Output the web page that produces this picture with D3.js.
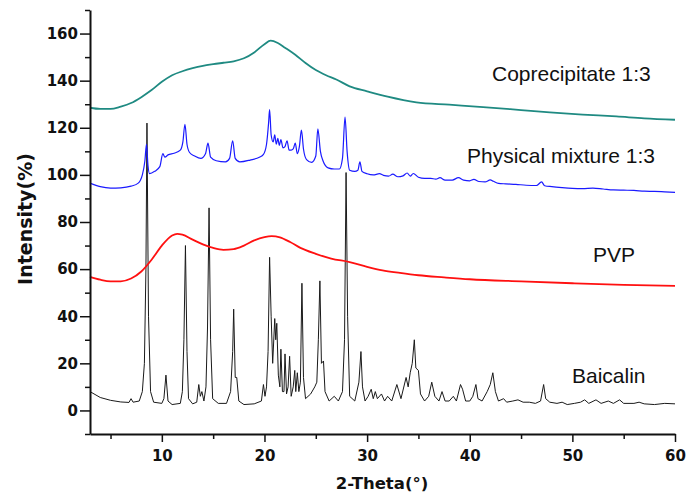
<!DOCTYPE html>
<html>
<head>
    <script type="text/javascript" src="https://d3js.org/d3.v7.min.js"></script>
    <style>
        body { margin: 0; background: #fff; }
        .tick text { font-family: "DejaVu Sans"; font-weight: bold; font-size: 15px; fill: #111; }
        .lbl { font-family: "Liberation Sans", Arial; font-size: 21px; fill: #111; }
        .title { font-family: "DejaVu Sans"; font-weight: bold; font-size: 16.5px; fill: #111; }
    </style>
</head>
<body>
<div id="chart"></div>
<script>
    var width = 700, height = 496;
    var margin = {left: 90, right: 25, top: 10, bottom: 62};

    // tick values
    var xMajor = [10, 20, 30, 40, 50, 60];
    var xMinor = [5, 15, 25, 35, 45, 55];
    var yMajor = [0, 20, 40, 60, 80, 100, 120, 140, 160];
    var yMinor = [-10, 10, 30, 50, 70, 90, 110, 130, 150, 170];

    // series: [2-theta, intensity]
    var baicalin = [[3,8],[4,5.5],[5,4.3],[6,3.6],[6.8,3.4],[7,5],[7.2,3.5],[7.8,4],[8.1,8],[8.3,20],[8.45,60],[8.55,122],[8.7,40],[8.9,8],[9.2,3.5],[10,3],[10.2,5],[10.4,15],[10.6,4],[11,2.5],[11.8,3],[12.0,8],[12.15,30],[12.3,70],[12.45,25],[12.6,5],[13,2.8],[13.4,3.5],[13.6,11],[13.75,6],[13.9,8],[14.1,4],[14.3,10],[14.45,35],[14.6,86],[14.75,30],[14.95,5],[15.5,3],[16.3,3],[16.7,8],[16.9,25],[17.0,43],[17.15,14],[17.3,14],[17.5,4],[18,2.5],[19,2.8],[19.7,4],[19.9,11],[20.05,6],[20.2,10],[20.35,25],[20.5,65],[20.65,40],[20.8,20],[21.0,39],[21.1,30],[21.2,37],[21.35,15],[21.5,10],[21.6,26],[21.75,8],[21.9,8],[22.0,24],[22.15,7],[22.3,10],[22.45,23],[22.6,6],[22.8,10],[22.95,17],[23.05,8],[23.2,16],[23.35,8],[23.5,12],[23.65,54],[23.8,14],[24,5],[24.5,7],[24.9,10],[25.1,12],[25.25,30],[25.4,55],[25.55,20],[25.75,21],[25.9,8],[26.3,4],[26.8,6],[27.2,4],[27.6,8],[27.8,30],[27.95,101],[28.1,40],[28.3,6],[28.8,4],[29.2,12],[29.4,25],[29.55,10],[29.8,4],[30.1,6],[30.4,9],[30.6,5],[30.8,8],[31.0,5],[31.4,7],[31.7,4],[32.0,6],[32.4,4],[32.9,11],[33.3,5],[33.8,14],[34.0,10],[34.2,16],[34.4,20],[34.6,30],[34.75,18],[35.0,17],[35.2,7],[35.6,4],[36.0,6],[36.3,12],[36.6,6],[37.0,4],[37.3,8],[37.6,4],[38.0,4],[38.4,6],[38.7,4],[39.1,11],[39.3,9],[39.6,4],[40.0,4],[40.3,6],[40.6,11],[40.8,5],[41.2,4],[41.7,8],[42.0,11],[42.25,16],[42.5,8],[42.8,4],[43.3,5],[43.6,3.5],[44.2,4],[44.7,4.5],[45.2,3.5],[45.8,3.5],[46.4,3],[46.9,4],[47.2,11],[47.4,5],[47.8,3.5],[48.5,3],[49,3.5],[49.5,2.5],[50.2,3],[50.8,3.5],[51.2,4.5],[51.6,3],[52.3,4.5],[52.8,3],[53.5,4],[54.0,3],[54.6,4.5],[55,3],[56,3],[56.5,3.5],[57,2.8],[58,2.5],[59,3],[60,2.8]];

    var pvp = [[3,56.7],[4,55.5],[5,54.8],[6,54.8],[7,56],[8,59],[9,64],[10,70],[11,74.3],[11.5,75],[12,74.6],[13,72.5],[14,70.5],[15,69],[16,68.2],[17,68.5],[18,70],[19,72.2],[20,73.6],[20.7,74],[21.5,73.5],[22.5,71.5],[23.5,69],[25,66.5],[26.5,64.5],[28.3,63],[30,61],[31.5,59.5],[33.2,58.4],[35,57.4],[37.5,56.5],[40,55.7],[45,54.8],[50,54],[55,53.3],[60,52.9]];

    var mixture = [[3,96.5],[4,95],[5,94.4],[6,94.5],[7,95.2],[7.7,96.5],[8.1,100],[8.35,106],[8.5,113],[8.65,104],[8.8,100.5],[9.3,101.5],[9.8,103.5],[10.1,109],[10.3,107.5],[10.6,108.5],[11.2,109.2],[11.8,110.5],[12.05,114],[12.25,121.5],[12.45,113],[12.7,109.5],[13.2,108],[13.8,107],[14.25,109],[14.5,113.5],[14.75,107.5],[15.3,106],[16.2,105.5],[16.6,107],[16.9,114.5],[17.15,107],[17.6,105.5],[18.6,106.3],[19.5,107.5],[19.9,108.7],[20.2,113],[20.4,122],[20.5,127.7],[20.65,117],[20.85,114],[21.0,117],[21.15,113],[21.3,115.5],[21.45,112.5],[21.6,115],[21.8,111.5],[22.0,112],[22.2,114.5],[22.4,110.5],[22.6,110.5],[22.8,111],[23.0,113.5],[23.2,109],[23.4,112],[23.6,119],[23.8,111],[24.1,106.5],[24.6,105.3],[25.0,108],[25.2,119.5],[25.45,110],[25.7,106],[26.2,103],[26.8,102.5],[27.3,102.5],[27.6,107],[27.85,124.5],[28.05,110],[28.3,102],[28.8,101.5],[29.1,102],[29.3,105.5],[29.5,101.5],[30,100.5],[30.6,100],[31.2,100.5],[31.6,99.8],[32.1,99.5],[32.5,100.3],[33,99.2],[33.5,99.6],[33.9,100.8],[34.2,99.5],[34.5,100.6],[35,99],[35.6,98.5],[36.2,98.5],[36.7,98.2],[37.1,98.8],[37.6,97.8],[38.3,97.8],[38.9,98.8],[39.4,97.8],[40,97.5],[40.4,98.1],[40.9,97.2],[41.5,97],[42.0,97.9],[42.3,97.3],[42.8,96.4],[43.5,96.2],[44.5,96],[45.5,95.6],[46.5,95.5],[47.0,97],[47.3,95.4],[48,95],[49,94.6],[50,94.3],[51,94.2],[52,94.4],[53,94],[54,93.6],[55,93.5],[56,93.4],[57,93.1],[58,93],[59,92.8],[60,92.6]];

    var copre = [[3,128.5],[4,128],[5,128],[6,129],[7,130.5],[8,133],[9,136],[10,139.5],[11,142.3],[12,144],[13,145.3],[14,146.3],[15,147],[16,147.6],[17,148.2],[18,149.5],[19,152],[20,155.5],[20.6,157],[21.3,156],[22,154],[23,151],[24,147.5],[25,144.5],[26,142.3],[27,140.5],[28.3,137.6],[30,135.5],[32,133.2],[34.8,130.8],[38,129.8],[41.3,128.8],[45,127.5],[47.8,126.5],[51,125.6],[54.3,124.8],[57,124],[60,123.4]];

    var series = [
        {name: 'Baicalin', data: baicalin, color: '#1a1a1a', w: 1, curve: d3.curveLinear, lx: 572, ly: 383},
        {name: 'PVP', data: pvp, color: '#ff1010', w: 1.8, curve: d3.curveMonotoneX, lx: 593, ly: 262},
        {name: 'Physical mixture 1:3', data: mixture, color: '#1a1aff', w: 1.2, curve: d3.curveMonotoneX, lx: 467, ly: 163},
        {name: 'Coprecipitate 1:3', data: copre, color: '#1f8a82', w: 1.8, curve: d3.curveMonotoneX, lx: 492, ly: 81}
    ];

    var svg = d3.select("#chart").append("svg")
        .attr("width", width).attr("height", height);

    var x = d3.scaleLinear().domain([3, 60]).range([margin.left, width - margin.right]);
    var y = d3.scaleLinear().domain([-10, 170]).range([height - margin.bottom, margin.top]);

    for (var s of series) {
        var line = d3.line().curve(s.curve).x(d => x(d[0])).y(d => y(d[1]));
        svg.append("path").datum(s.data)
            .attr("fill", "none").attr("stroke", s.color)
            .attr("stroke-width", s.w).attr("stroke-linejoin", "round")
            .attr("d", line);
        svg.append("text").attr("class", "lbl").attr("x", s.lx).attr("y", s.ly).text(s.name);
    }

    // minor ticks
    svg.append("g").attr("transform", "translate(0," + y(-10) + ")")
        .call(d3.axisBottom(x).tickValues(xMinor).tickSize(5).tickFormat(""))
        .call(g => g.select(".domain").remove());
    svg.append("g").attr("transform", "translate(" + x(3) + ",0)")
        .call(d3.axisLeft(y).tickValues(yMinor).tickSize(5).tickFormat(""))
        .call(g => g.select(".domain").remove());

    // major axes
    svg.append("g").attr("transform", "translate(0," + y(-10) + ")")
        .call(d3.axisBottom(x).tickValues(xMajor).tickSize(8).tickPadding(8).tickSizeOuter(0));
    svg.append("g").attr("transform", "translate(" + x(3) + ",0)")
        .call(d3.axisLeft(y).tickValues(yMajor).tickSize(10).tickPadding(2).tickSizeOuter(0));
    svg.selectAll(".tick line").attr("stroke", "#111").attr("stroke-width", 1.5);
    svg.selectAll(".domain").attr("stroke", "#111").attr("stroke-width", 2);

    svg.append("text").attr("class", "title")
        .attr("x", 382).attr("y", 489).attr("text-anchor", "middle")
        .text("2-Theta(°)");
    svg.append("text").attr("class", "title")
        .style("font-size", "19px")
        .attr("transform", "translate(32,219) rotate(-90)")
        .attr("text-anchor", "middle")
        .text("Intensity(%)");
</script>
</body>
</html>
